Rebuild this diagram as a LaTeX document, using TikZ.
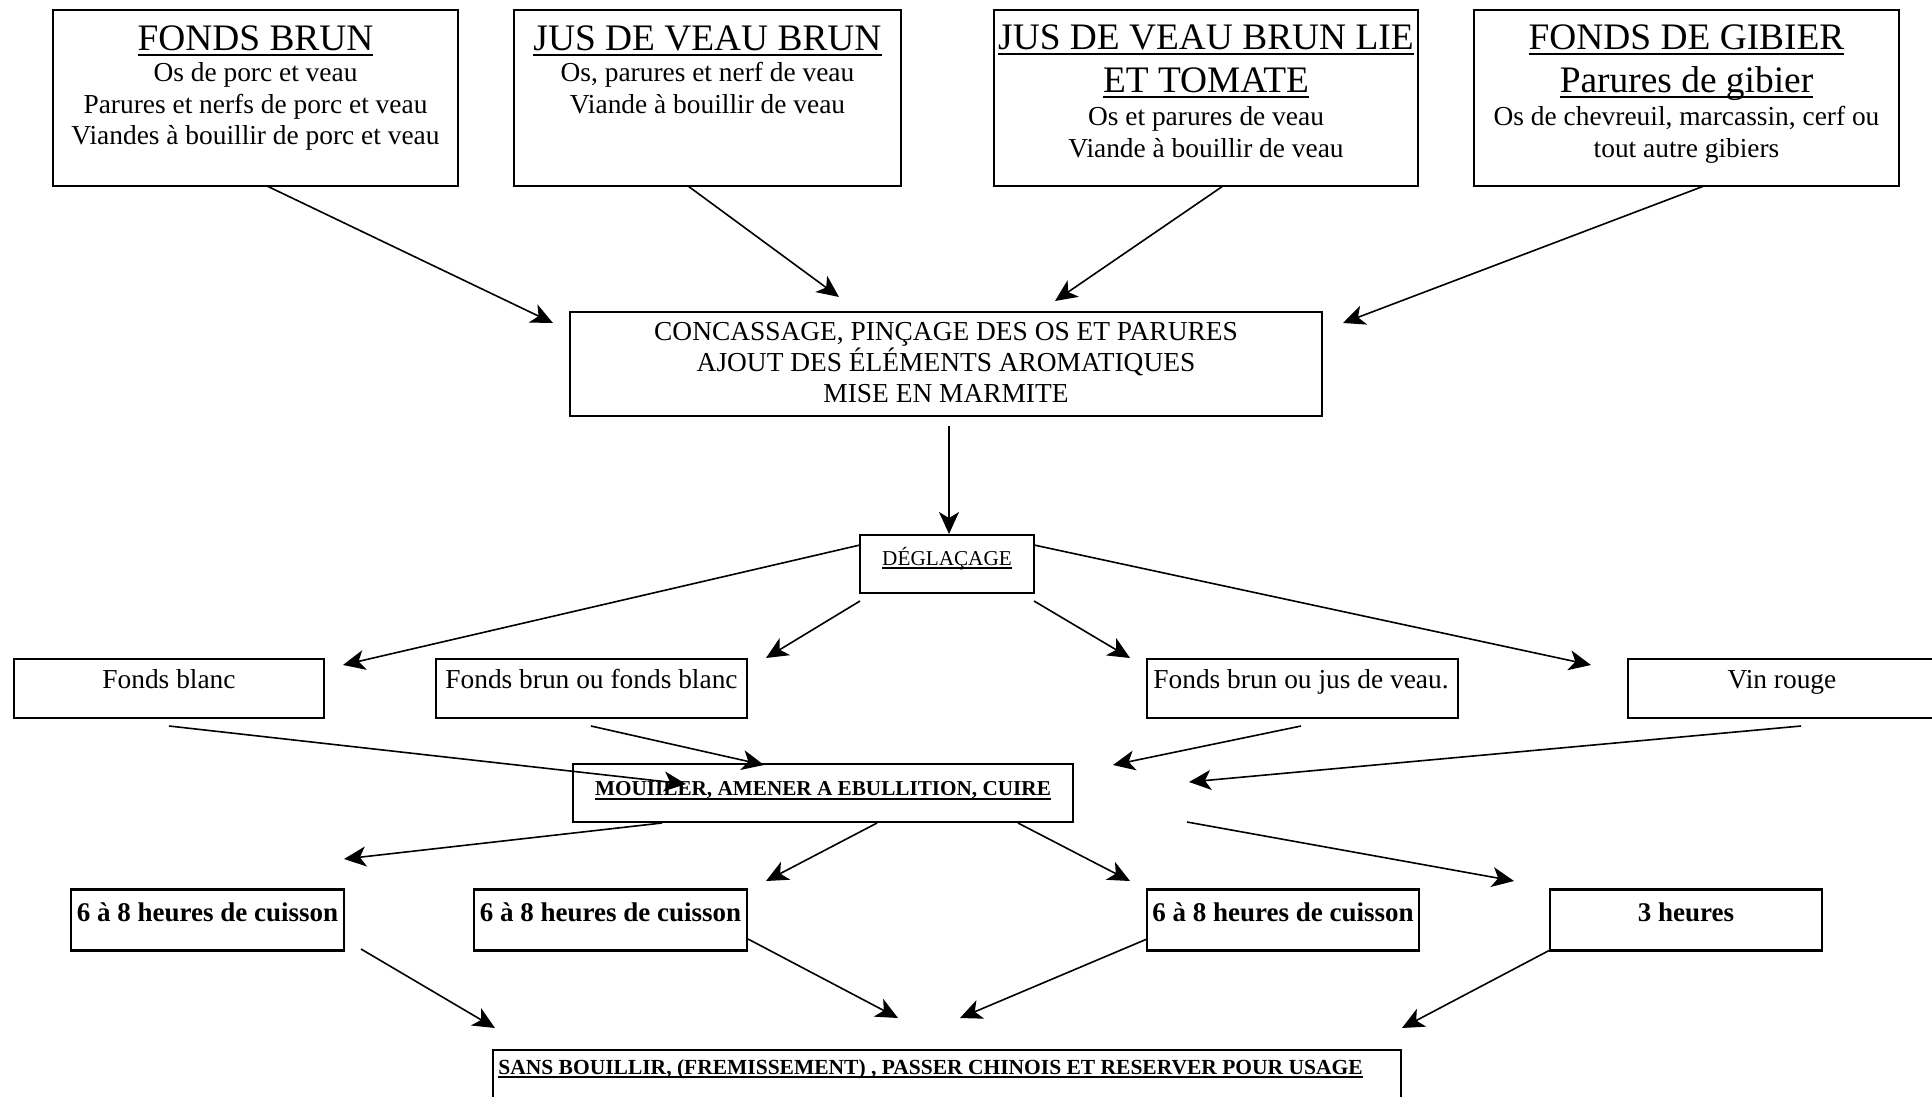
\documentclass[tikz,border=0pt]{standalone}
\usepackage{fontspec}
\setmainfont{Liberation Serif}
\usetikzlibrary{arrows.meta}
\newcommand\ttlfont{\fontsize{18.7pt}{21.5pt}\selectfont}
\newcommand\bdyfont{\fontsize{13.7pt}{15.5pt}\selectfont}
\newcommand\smlfont{\fontsize{10.6pt}{12pt}\selectfont}
\newcommand\sansfont{\fontsize{10.75pt}{12pt}\selectfont}
\newcommand\midfont{\fontsize{13.5pt}{15.5pt}\selectfont\bfseries}
% underline: #1 thickness, #2 depth below baseline, #3 text
\newcommand\myul[3]{\setbox0\hbox{#3}\leavevmode\rlap{\usebox0}\raisebox{-#2}{\rule{\wd0}{#1}}}
\begin{document}
\begin{tikzpicture}[x=0.5pt,y=-0.5pt,
  box/.style={draw,line width=1pt,inner sep=0pt,rectangle},
  tline/.style={inner sep=0pt,anchor=base,font=\ttlfont},
  bline/.style={inner sep=0pt,anchor=base,font=\bdyfont},
  sline/.style={inner sep=0pt,anchor=base,font=\smlfont},
  mline/.style={inner sep=0pt,anchor=base,font=\midfont},
  arr/.style={line width=0.8pt,-{Stealth[length=11pt,width=10pt,inset=3pt]}}]
\useasboundingbox (0,0) rectangle (1932,1097);
\fill[white] (0,0) rectangle (1932,1097);

% ---- top boxes
\node[box,minimum width=202.5pt,minimum height=88pt] (b1) at (255.5,98) {};
\node[box,minimum width=193.5pt,minimum height=88pt] (b2) at (707.5,98) {};
\node[box,minimum width=212pt,minimum height=88pt] (b3) at (1206,98) {};
\node[box,minimum width=212.5pt,minimum height=88pt] (b4) at (1686.5,98) {};

\node[tline] (b1t) at (255.5,50.4) {\myul{1.2pt}{3pt}{FONDS BRUN}};
\node[bline] (b1a) at (255.5,82) {Os de porc et veau};
\node[bline] (b1b) at (255.5,113) {Parures et nerfs de porc et veau};
\node[bline] (b1c) at (255.5,144) {Viandes à bouillir de porc et veau};

\node[tline] (b2t) at (707.5,50.4) {\myul{1.2pt}{3pt}{JUS DE VEAU BRUN}};
\node[bline] (b2a) at (707.5,82) {Os, parures et nerf de veau};
\node[bline] (b2b) at (707.5,113) {Viande à bouillir de veau};

\node[tline] (b3t) at (1206,49.4) {\myul{1.2pt}{3pt}{JUS DE VEAU BRUN LIE}};
\node[tline] (b3u) at (1206,92.4) {\myul{1.2pt}{3pt}{ET TOMATE}};
\node[bline] (b3a) at (1206,126) {Os et parures de veau};
\node[bline] (b3b) at (1206,157) {Viande à bouillir de veau};

\node[tline] (b4t) at (1686.5,49.4) {\myul{1.2pt}{3pt}{FONDS DE GIBIER}};
\node[tline] (b4u) at (1686.5,92.4) {\myul{1.2pt}{3pt}{Parures de gibier}};
\node[bline] (b4a) at (1686.5,126) {Os de chevreuil, marcassin, cerf ou};
\node[bline] (b4b) at (1686.5,157) {tout autre gibiers};

% ---- concassage
\node[box,minimum width=376pt,minimum height=52pt] (cc) at (946,364) {};
\node[bline] (cca) at (946,340.5) {CONCASSAGE, PINÇAGE DES OS ET PARURES};
\node[bline] (ccb) at (946,371.3) {AJOUT DES ÉLÉMENTS AROMATIQUES};
\node[bline] (ccc) at (946,402) {MISE EN MARMITE};

% ---- deglacage
\node[box,minimum width=87pt,minimum height=29pt] (dg) at (947,564) {};
\node[sline] (dgt) at (947,565) {\myul{0.8pt}{2pt}{DÉGLAÇAGE}};

% ---- row 2
\node[box,minimum width=155pt,minimum height=29.5pt] (r1) at (169,688.5) {};
\node[box,minimum width=155.5pt,minimum height=29.5pt] (r2) at (591.5,688.5) {};
\node[box,minimum width=155.5pt,minimum height=29.5pt] (r3) at (1302.5,688.5) {};
\node[box,minimum width=158.5pt,minimum height=29.5pt] (r4) at (1786.5,688.5) {};
\node[bline] (r1t) at (169,688) {Fonds blanc};
\node[bline] (r2t) at (591.5,688) {Fonds brun ou fonds blanc};
\node[bline] (r3t) at (1301,688) {Fonds brun ou jus de veau.};
\node[bline] (r4t) at (1782,688) {Vin rouge};

% ---- mouiller
\node[box,minimum width=250pt,minimum height=29pt] (mo) at (823,793) {};
\node[sline,font=\smlfont\bfseries] (mot) at (823,795.5) {\myul{0.8pt}{2pt}{MOUIILER, AMENER A EBULLITION, CUIRE}};

% ---- row 3
\foreach \n/\cx/\w in {c1/207.5/136.5pt, c2/610.5/136.5pt, c3/1283/136pt, c4/1686/136pt}{
  \node[box,line width=0.6pt,minimum width=\w,minimum height=30pt] (\n) at (\cx,920) {};
  \draw[line width=1.4pt] (\n.north west) -- (\n.north east);
  \draw[line width=1.4pt] (\n.south west) -- (\n.south east);
}
\node[mline] (c1t) at (207.5,921) {6 à 8 heures de cuisson};
\node[mline] (c2t) at (610.5,921) {6 à 8 heures de cuisson};
\node[mline] (c3t) at (1283,921) {6 à 8 heures de cuisson};
\node[mline] (c4t) at (1686,921) {3 heures};

% ---- sans bouillir
\node[box,line width=1.3pt,minimum width=454pt,minimum height=30pt] (sb) at (947,1080) {};
\node[sline,font=\sansfont\bfseries,anchor=base west] (sbt) at (498,1074) {\myul{0.8pt}{2pt}{SANS BOUILLIR, (FREMISSEMENT) , PASSER CHINOIS ET RESERVER POUR USAGE}};

% ---- connector end points
\coordinate (s1) at (267,186);  \coordinate (e1) at (553,323);
\coordinate (s2) at (688,186);  \coordinate (e2) at (839,297);
\coordinate (s3) at (1223,186); \coordinate (e3) at (1055,301);
\coordinate (s4) at (1704,186); \coordinate (e4) at (1343,323);
\coordinate (s5) at (949,426);  \coordinate (e5) at (949,534);
\coordinate (s6) at (860,545);  \coordinate (e6) at (343,665);
\coordinate (s7) at (860,601);  \coordinate (e7) at (766,658);
\coordinate (s8) at (1034,601); \coordinate (e8) at (1130,658);
\coordinate (s9) at (1034,545); \coordinate (e9) at (1591,665);
\coordinate (s10) at (169,726); \coordinate (e10) at (686,784);
\coordinate (s11) at (591,726); \coordinate (e11) at (764,765);
\coordinate (s12) at (1301,726);\coordinate (e12) at (1113,765);
\coordinate (s13) at (1801,726);\coordinate (e13) at (1189,782);
\coordinate (s14) at (662,823); \coordinate (e14) at (344,859);
\coordinate (s15) at (877,823); \coordinate (e15) at (766,881);
\coordinate (s16) at (1018,823);\coordinate (e16) at (1130,881);
\coordinate (s17) at (1187,822);\coordinate (e17) at (1514,881);
\coordinate (s18) at (361,949); \coordinate (e18) at (495,1028);
\coordinate (s19) at (748,939); \coordinate (e19) at (898,1018);
\coordinate (s20) at (1147,939);\coordinate (e20) at (960,1018);
\coordinate (s21) at (1550,950);\coordinate (e21) at (1402,1028);

\foreach \i in {1,...,21}{\draw[arr] (s\i) -- (e\i);}
\end{tikzpicture}
\end{document}
